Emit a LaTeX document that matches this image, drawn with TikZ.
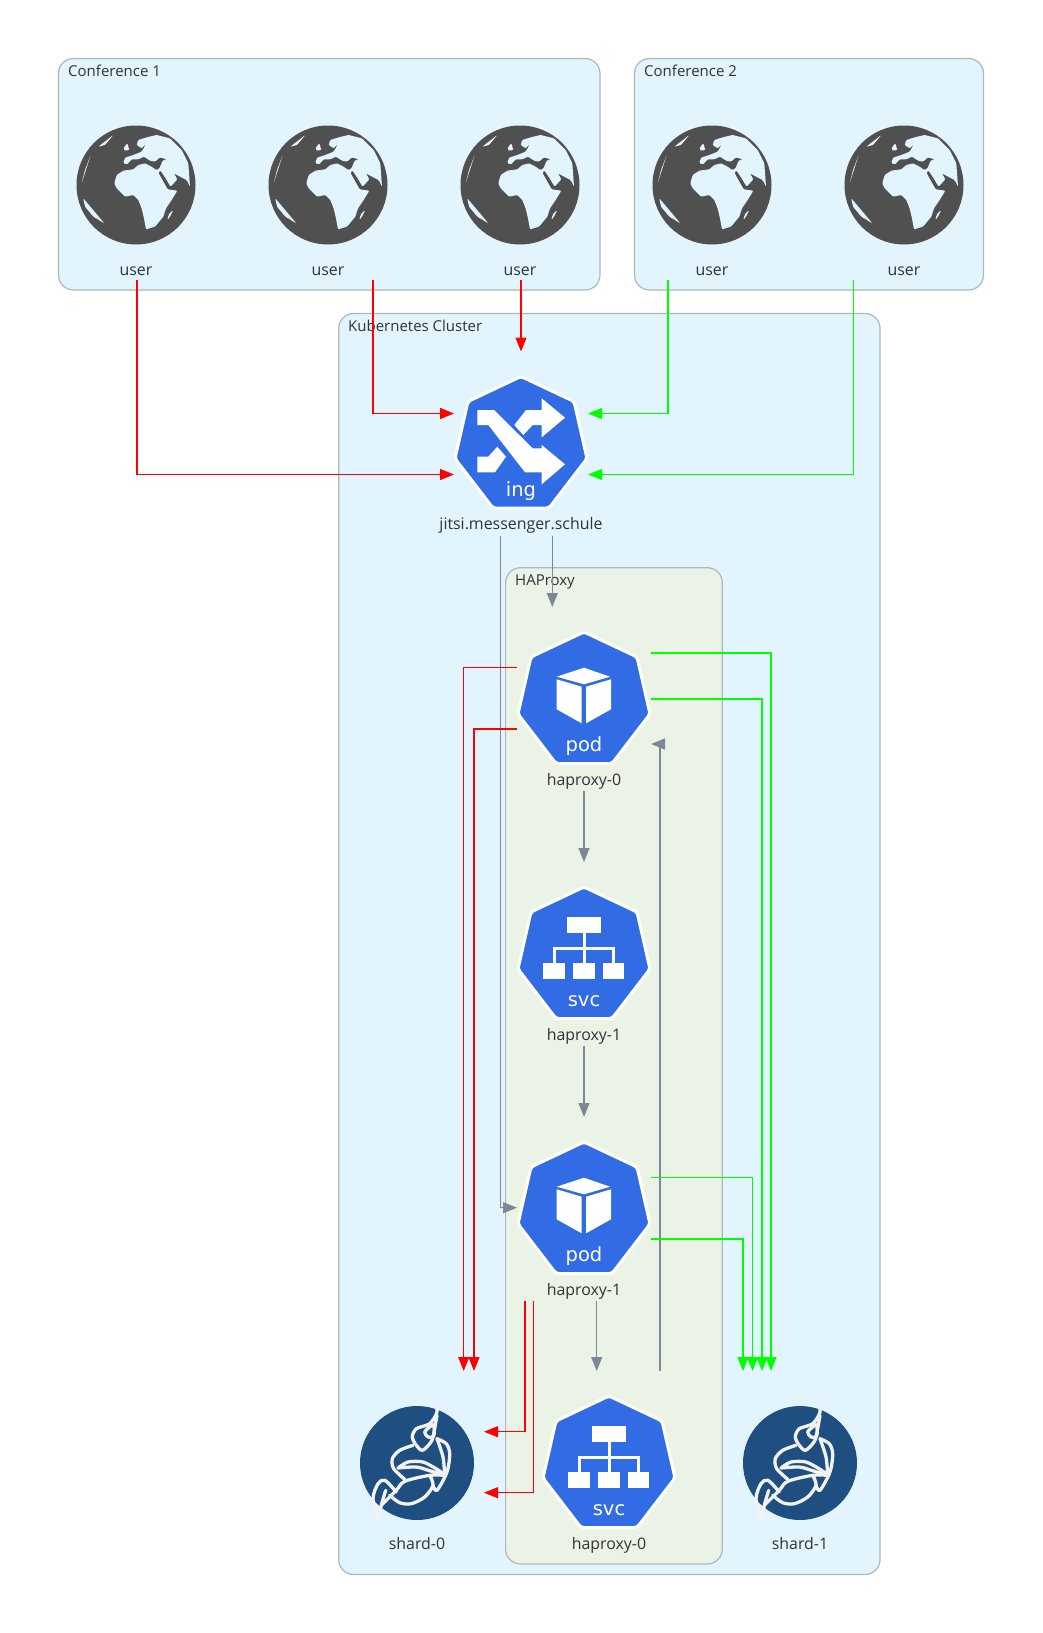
\documentclass[tikz,border=0pt]{standalone}
\usepackage{fontspec}
\usepackage{xcolor}
\usepackage{tikz}
\usetikzlibrary{arrows.meta,positioning}
\setmainfont{Open Sans}
\newfontfamily\iconfont{DejaVu Sans}
\definecolor{clusterblue}{RGB}{226,245,254}
\definecolor{clustergreen}{RGB}{235,243,231}
\definecolor{clusterline}{RGB}{174,182,190}
\definecolor{kubeblue}{RGB}{50,108,229}
\definecolor{globegray}{RGB}{80,80,80}
\definecolor{jitsiblue}{RGB}{31,79,128}
\definecolor{edgegray}{RGB}{124,136,148}
\definecolor{textgray}{RGB}{45,52,54}
\tikzset{
  cluster/.style={draw=clusterline, line width=1.2pt, rounded corners=15pt, fill=clusterblue},
  clusterlabel/.style={anchor=base west, inner sep=0pt, text=textgray, font=\fontsize{15}{17}\selectfont},
  iconbox/.style={minimum width=134pt, minimum height=184pt, inner sep=0pt, outer sep=0pt},
  caption/.style={anchor=base, inner sep=0pt, text=textgray, font=\fontsize{15.9}{18}\selectfont},
  icontext/.style={anchor=base, inner sep=0pt, text=white, font=\iconfont\fontsize{19.5}{22}\selectfont},
  redarrow/.style={-{Triangle[length=14pt,width=11pt]}, line width=1.2pt, draw=red},
  greenarrow/.style={-{Triangle[length=14pt,width=11pt]}, line width=1.2pt, draw=green},
  grayarrow/.style={-{Triangle[length=14pt,width=11pt]}, line width=1.2pt, draw=edgegray},
  jitsiline/.style={draw=white!95!black, line width=3.3pt, line cap=round, line join=round},
  hept/.pic={
    \draw[draw=white, fill=kubeblue, line width=3pt, rounded corners=3pt]
      (0,-67)--(53,-42)--(66,15)--(28,64.5)--(-28,64.5)--(-66,15)--(-53,-42)--cycle;
    \node[icontext] (-tag) at (0,52.6) {#1};
  },
  podicon/.pic={
    \pic {hept=pod};
    \fill[white] (-27.3,-22.3)--(0,-31.3)--(26,-22.3)--(0,-14.7)--cycle;
    \fill[white] (-27.3,-19.7)--(-2.3,-12.3)--(-2.3,24.3)--(-27.3,10.3)--cycle;
    \fill[white] (2,-12.3)--(27,-19.7)--(27,10.3)--(2,24.3)--cycle;
  },
  svcicon/.pic={
    \pic {hept=svc};
    \fill[white] (-17,-37.5) rectangle (17,-21.5);
    \fill[white] (-40.7,9.2) rectangle (-19,25.2);
    \fill[white] (-11,9.2) rectangle (10.7,25.2);
    \fill[white] (18.7,9.2) rectangle (40.3,25.2);
    \draw[white, line width=3pt] (0,-22)--(0,10) (-29.7,10)--(-29.7,-5.8)--(29.5,-5.8)--(29.5,10);
  },
  ingicon/.pic={
    \pic {hept=ing};
    \fill[white] (-43.7,-33.5)--(-27,-33.5)--(11.7,4.8)--(20.7,4.8)--(20.7,1.5)--(44,20.8)--(20.7,40.8)
      --(20.7,28.8)--(4,28.8)--(-32.7,-18.5)--(-43.7,-18.5)--cycle;
    \fill[white] (-6.7,-18.5)--(5,-33.5)--(20.7,-33.5)--(20.7,-45.2)--(44,-25.8)--(20.7,-6.2)
      --(20.7,-18.5)--(11.7,-18.5)--(2.3,-8.5)--cycle;
    \fill[white] (-43.7,13.2)--(-32.7,13.2)--(-23.7,3.2)--(-15,13.2)--(-26,28.8)--(-43.7,28.8)--cycle;
  },
  globe/.pic={
    \fill[globegray] (0,-3) circle (59.5pt);
    \begin{scope}[shift={(-66,-68)}, scale=0.3333, fill=clusterblue, rounded corners=1pt]
    % land
    \fill (133,190)--(140,165)--(160,152)--(190,148)--(205,135)--(225,130)--(245,140)--(258,150)--(268,146)
      --(278,122)--(290,118)--(270,112)--(255,125)--(240,122)--(222,110)--(205,118)--(185,118)--(172,133)
      --(160,130)--(165,113)--(190,105)--(215,95)--(228,72)--(215,85)--(200,75)--(205,60)--(230,52)
      --(260,45)--(300,55)--(335,90)--(355,130)--(360,200)--(350,180)--(330,170)--(312,160)--(322,178)
      --(302,200)--(285,172)--(272,152)--(265,158)--(293,208)--(322,212)--(305,240)--(288,265)--(280,290)
      --(255,320)--(228,328)--(222,295)--(215,265)--(205,240)--(190,225)--(165,230)--(140,205)--cycle;
    % islands and highlights
    \fill (310,270)--(300,290)--(292,300)--(297,282)--cycle;
    \fill (85,80)--(130,45)--(105,75)--cycle;
    \fill (35,190)--(62,105)--(45,150)--cycle;
    \fill (40,235)--(103,310)--(70,290)--(45,260)--cycle;
    \fill (160,85)--(172,70)--(178,90)--(165,92)--cycle;
    \end{scope}
  },
  jitsiicon/.pic={
    \fill[jitsiblue] (0,0) circle (57pt);
    \draw[jitsiline] plot[smooth] coordinates {(17.7,-61) (20,-51) (12.7,-39.3) (-0.7,-34.3) (-4.7,-26) (-0.7,-17.7) (5.3,-12.7) (12.7,-19.3) (16,-26) (20,-47.7)};
    \draw[jitsiline] plot[smooth cycle] coordinates {(7.7,-31) (12.7,-36) (16.7,-38.3) (16.7,-27) (11,-26)};
    \draw[jitsiline] plot[smooth] coordinates {(-4,-17.7) (-17.3,-12.7) (-24.7,-4.3) (-23.3,5.7) (-12.3,16.3)};
    \draw[jitsiline] plot[smooth] coordinates {(20,-24.3) (29.3,-19.3) (32.7,-9.3) (30,9) (20,27.3) (16,22.3)};
    \draw[jitsiline] plot[smooth] coordinates {(20,-24.3) (26,-6) (27.7,12.3)};
    \draw[jitsiline] plot[smooth] coordinates {(-19,5) (-9,-1) (6,-1) (20,6.3) (27.7,12.3) (12.7,7.7) (-0.7,4) (-19,5)};
    \draw[jitsiline] plot[smooth] coordinates {(27.7,12.3) (12.7,12.3) (-12.3,18.3) (-20.7,27.3) (-35.7,42.3)};
    \draw[jitsiline] plot[smooth] coordinates {(12.7,12.3) (16,22.3) (7.7,34) (-5.7,40.7) (-17.3,39.7) (-27.3,32.3)};
    \draw[jitsiline] plot[smooth] coordinates {(-39,57.3) (-44,35.7) (-39,20.7) (-32,17.3) (-20.7,29)};
    \draw[jitsiline] plot[smooth] coordinates {(-39,57.3) (-35.7,42.3) (-31.3,27.3)};
  }
}

\begin{document}
\begin{tikzpicture}[x=1pt, y=-1pt]
  \useasboundingbox (0,0) rectangle (1043,1633);
  % clusters
  \draw[cluster] (58.5,58.5) rectangle (600,290);
  \draw[cluster] (634.5,58.5) rectangle (983.5,290);
  \draw[cluster] (338.7,313.5) rectangle (880,1574.5);
  \draw[cluster, fill=clustergreen] (505.6,567.7) rectangle (722.3,1564);
  \node[clusterlabel] (conf1) at (68,76) {Conference 1};
  \node[clusterlabel] (conf2) at (644,76) {Conference 2};
  \node[clusterlabel] (kube) at (348,331) {Kubernetes Cluster};
  \node[clusterlabel] (hap) at (515,585) {HAProxy};
  % users
  \node[iconbox] (u1) at (136,188) {};
  \node[iconbox, right=58pt of u1] (u2) {};
  \node[iconbox, right=58pt of u2] (u3) {};
  \node[iconbox, right=58pt of u3] (u4) {};
  \node[iconbox, right=58pt of u4] (u5) {};
  \pic at (u1) {globe}; \pic at (u2) {globe}; \pic at (u3) {globe};
  \pic at (u4) {globe}; \pic at (u5) {globe};
  \node[caption] (u1text) at ([yshift=5pt]u1.south) {user};
  \node[caption] (u2text) at ([yshift=5pt]u2.south) {user};
  \node[caption] (u3text) at ([yshift=5pt]u3.south) {user};
  \node[caption] (u4text) at ([yshift=5pt]u4.south) {user};
  \node[caption] (u5text) at ([yshift=5pt]u5.south) {user};
  % kubernetes
  \node[iconbox] (ing) at (521,443.5) {};
  \node[iconbox] (pod0) at (584,699) {};
  \node[iconbox, below=71pt of pod0] (svc1) {};
  \node[iconbox, below=71pt of svc1] (pod1) {};
  \node[iconbox, below=70pt of pod1, xshift=25pt] (svc0) {};
  \node[iconbox, left=58pt of svc0] (shard0) {};
  \node[iconbox, right=57pt of svc0] (shard1) {};
  \pic at (ing) {ingicon}; \pic at (pod0) {podicon}; \pic at (svc1) {svcicon};
  \pic at (pod1) {podicon}; \pic at (svc0) {svcicon};
  \pic at (shard0) {jitsiicon}; \pic at (shard1) {jitsiicon};
  \node[caption] (ingtext) at ([yshift=6pt]ing.south) {jitsi.messenger.schule};
  \node[caption] (pod0text) at ([yshift=6pt]pod0.south) {haproxy-0};
  \node[caption] (svc1text) at ([yshift=6pt]svc1.south) {haproxy-1};
  \node[caption] (pod1text) at ([yshift=6pt]pod1.south) {haproxy-1};
  \node[caption] (svc0text) at ([yshift=6pt]svc0.south) {haproxy-0};
  \node[caption] (shard0text) at ([yshift=6pt]shard0.south) {shard-0};
  \node[caption] (shard1text) at ([yshift=6pt]shard1.south) {shard-1};
  % conference edges
  \draw[redarrow] ([xshift=1pt]u1.south) |- ([yshift=-31pt]ing.west);
  \draw[redarrow] ([xshift=45pt]u2.south) |- ([yshift=30pt]ing.west);
  \draw[redarrow] (u3.south -| ing.north) -- (ing.north);
  \draw[greenarrow] ([xshift=-44pt]u4.south) |- ([yshift=30pt]ing.east);
  \draw[greenarrow] ([xshift=-50.6pt]u5.south) |- ([yshift=-31pt]ing.east);
  % haproxy edges
  \draw[grayarrow] ([xshift=31.3pt]ing.south) -- ([xshift=-31.7pt]pod0.north);
  \draw[grayarrow] ([xshift=-20.7pt]ing.south) |- ([yshift=1.3pt]pod1.west);
  \draw[grayarrow] (pod0.south) -- (svc1.north);
  \draw[grayarrow] (svc1.south) -- (pod1.north);
  \draw[grayarrow] ([xshift=12.7pt]pod1.south) -- ([xshift=-12.3pt]svc0.north);
  \draw[grayarrow] ([xshift=51pt]svc0.north) |- ([yshift=-45pt]pod0.east);
  % shard edges
  \draw[redarrow] ([yshift=31.3pt]pod0.west) -| ([xshift=46.7pt]shard0.north);
  \draw[redarrow] ([yshift=-30pt]pod0.west) -| ([xshift=57pt]shard0.north);
  \draw[redarrow] ([xshift=-59pt]pod1.south) |- ([yshift=31.3pt]shard0.east);
  \draw[redarrow] ([xshift=-50.3pt]pod1.south) |- ([yshift=-29.7pt]shard0.east);
  \draw[greenarrow] ([yshift=46pt]pod0.east) -| ([xshift=-29pt]shard1.north);
  \draw[greenarrow] (pod0.east) -| ([xshift=-38pt]shard1.north);
  \draw[greenarrow] ([yshift=31.5pt]pod1.east) -| ([xshift=-47.5pt]shard1.north);
  \draw[greenarrow] ([yshift=-30pt]pod1.east) -| ([xshift=-57pt]shard1.north);
\end{tikzpicture}
\end{document}
